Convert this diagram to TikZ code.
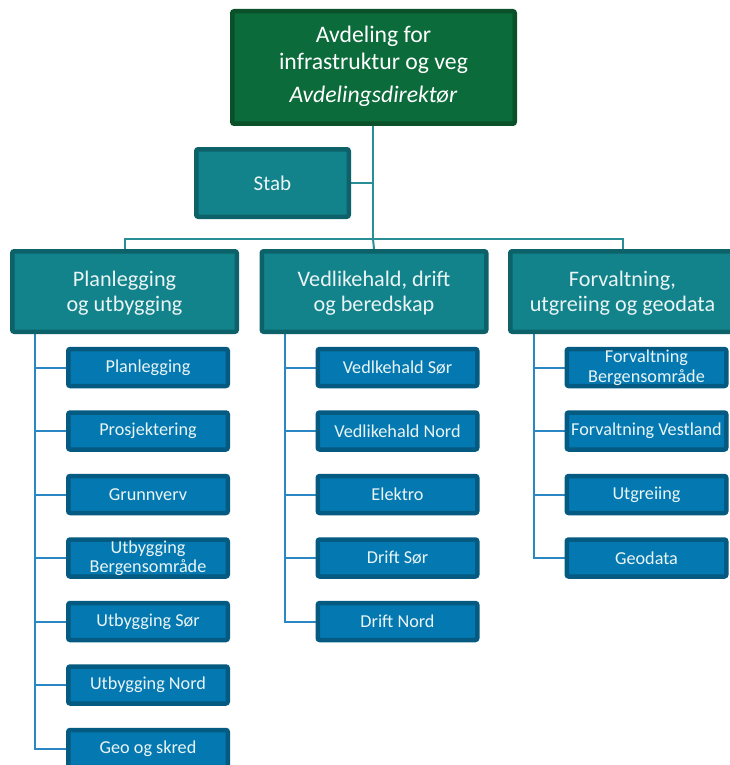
\documentclass[tikz,border=0pt]{standalone}
\usepackage{fontspec}
\setmainfont{Carlito}
\usetikzlibrary{backgrounds}
\definecolor{topfill}{HTML}{0B6B3A}
\definecolor{topdraw}{HTML}{0A5028}
\definecolor{tealfill}{HTML}{12838B}
\definecolor{tealdraw}{HTML}{0D6168}
\definecolor{leaffill}{HTML}{0479B1}
\definecolor{leafdraw}{HTML}{045A80}
\definecolor{tealline}{HTML}{2A8E97}
\definecolor{blueline}{HTML}{2B87C3}
\definecolor{lighttext}{HTML}{EAF4F5}
\tikzset{
  basebox/.style={rectangle, rounded corners=2pt, line width=4.5pt, inner sep=0pt, align=center},
  topbox/.style={basebox, fill=topfill, draw=topdraw, text=white, minimum width=282.5pt, minimum height=112.5pt, font=\fontsize{23.7}{27}\selectfont},
  stabbox/.style={basebox, fill=tealfill, draw=tealdraw, text=lighttext, minimum width=152.5pt, minimum height=67.5pt, font=\fontsize{21}{25}\selectfont},
  midbox/.style={basebox, fill=tealfill, draw=tealdraw, text=lighttext, minimum width=224.5pt, minimum height=80.5pt, font=\fontsize{22.2}{25}\selectfont},
  leafbox/.style={basebox, fill=leaffill, draw=leafdraw, text=lighttext, minimum width=159.5pt, minimum height=37pt, font=\fontsize{18.2}{19.5}\selectfont},
  tline/.style={draw=tealline, line width=2pt},
  bline/.style={draw=blueline, line width=2pt},
}
\begin{document}
\begin{tikzpicture}[x=1pt,y=-1pt]
\useasboundingbox (0,0) rectangle (729,765);
% top
\node[topbox] (top) at (373.5,67.5) {};
\node[text=white, align=center, inner sep=0pt, font=\fontsize{23.7}{27}\selectfont] (toptext) at (373.5,66) {Avdeling for\\infrastruktur og veg\\[6pt]\textit{Avdelingsdirektør}};
\node[stabbox] (stab) at (272.5,183) {Stab};
% level 2
\node[midbox] (m1) at (124.5,291.5) {};
\node[midbox] (m2) at (374,291.5) {};
\node[midbox] (m3) at (622.5,291.5) {};
\node[midbox, draw=none, fill=none] (m1t) at (124.5,293) {Planlegging\\og utbygging};
\node[midbox, draw=none, fill=none] (m2t) at (374,293) {Vedlikehald, drift\\og beredskap};
\node[midbox, draw=none, fill=none] (m3t) at (622.5,293) {Forvaltning,\\utgreiing og geodata};
% leaves col 1
\node[leafbox] (a1) at (148,367.5) {Planlegging};
\node[leafbox] (a2) at (148,431) {Prosjektering};
\node[leafbox] (a3) at (148,494.5) {Grunnverv};
\node[leafbox] (a4) at (148,558) {Utbygging\\Bergensområde};
\node[leafbox] (a5) at (148,621.5) {Utbygging Sør};
\node[leafbox] (a6) at (148,685) {Utbygging Nord};
\node[leafbox] (a7) at (148,748.5) {Geo og skred};
% leaves col 2
\node[leafbox] (b1) at (397.5,367.5) {Vedlkehald Sør};
\node[leafbox] (b2) at (397.5,431) {Vedlikehald Nord};
\node[leafbox] (b3) at (397.5,494.5) {Elektro};
\node[leafbox] (b4) at (397.5,558) {Drift Sør};
\node[leafbox] (b5) at (397.5,621.5) {Drift Nord};
% leaves col 3
\node[leafbox] (c1) at (646.5,367.5) {Forvaltning\\Bergensområde};
\node[leafbox] (c2) at (646.5,431) {Forvaltning Vestland};
\node[leafbox] (c3) at (646.5,494.5) {Utgreiing};
\node[leafbox] (c4) at (646.5,558) {Geodata};
% connectors
\coordinate (bar) at (373,239);
\coordinate (s1) at (35,334);
\coordinate (s2) at (284.5,334);
\coordinate (s3) at (534,334);
\begin{pgfonlayer}{background}
\draw[tline] (top.south -| bar) -- (bar);
\draw[tline] (stab.east) -- (stab.east -| bar);
\draw[tline] (m1.north) |- (bar) -| (m3.north);
\draw[tline] (bar) -- (m2.north);
\foreach \n in {a1,a2,a3,a4,a5,a6,a7} \draw[bline] (s1) |- (\n.west);
\foreach \n in {b1,b2,b3,b4,b5} \draw[bline] (s2) |- (\n.west);
\foreach \n in {c1,c2,c3,c4} \draw[bline] (s3) |- (\n.west);
\end{pgfonlayer}
\end{tikzpicture}
\end{document}
